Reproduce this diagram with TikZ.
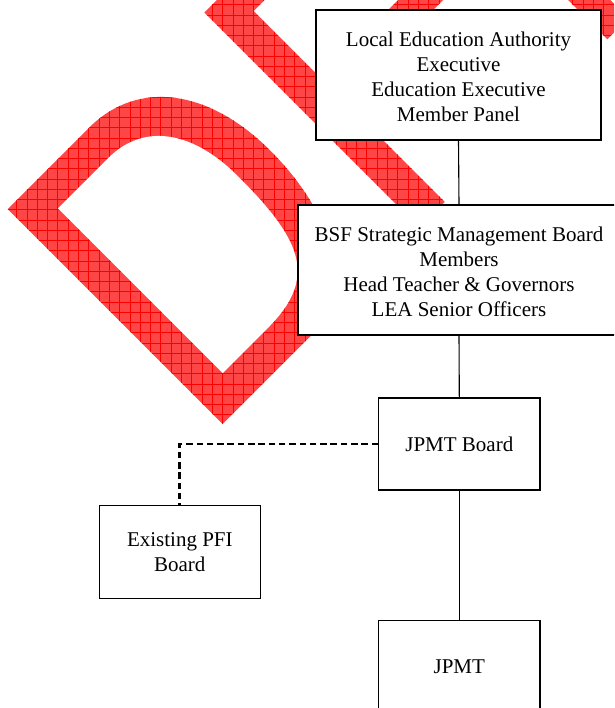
\documentclass[tikz,border=0pt]{standalone}
\usepackage{fontspec}
\setmainfont{Liberation Serif}
\definecolor{wmfill}{RGB}{255,70,70}
\definecolor{wmline}{RGB}{255,0,0}
\tikzset{
  box/.style={draw=black, line width=1.1pt, fill=white, align=center, inner sep=0pt,
    font=\fontsize{21}{25}\selectfont},
  link/.style={draw=black, line width=1.1pt},
  dlink/.style={draw=black, line width=2.8pt, dash pattern=on 6.5pt off 3.8pt},
  wm/.style={shift={(222.7pt,-424pt)}, x=1pt, y=1pt, rotate=45},
  gridline/.style={draw=wmline, line width=0.8pt}
}
\begin{document}
\begin{tikzpicture}[x=1pt,y=-1pt]
\useasboundingbox (0,0) rectangle (614,708);
\clip (0,0) rectangle (614,708);
\fill[white] (0,0) rectangle (614,708);
% watermark letters
\begin{scope}
  \clip[wm]
    (0,0) -- (0,304) -- (115,304) .. controls (185,304) and (227,245) .. (227,160)
      .. controls (227,70) and (190,0) .. (120,0) -- cycle
    (278,0) -- (278,304) -- (440,304) .. controls (520,304) and (565,268) .. (565,224)
      .. controls (565,190) and (550,168) .. (528,158)
      .. controls (562,140) and (574,110) .. (574,70) -- (574,0) -- (544,0) -- (544,70)
      .. controls (544,118) and (515,144) .. (465,144) -- (314,144) -- (314,0) -- cycle;
  \fill[wmfill] (0,0) rectangle (614,708);
  \foreach \i in {0,...,60} { \draw[gridline] ({6.3+10.3*\i},0) -- ({6.3+10.3*\i},708); }
  \foreach \i in {0,...,70} { \draw[gridline] (0,{4.75+10.25*\i}) -- (614,{4.75+10.25*\i}); }
\end{scope}
\fill[white, wm]
  (36,36) -- (36,269) -- (107,269) .. controls (160,269) and (186,225) .. (186,165)
    .. controls (186,75) and (172,36) .. (100,36) -- cycle
  (314,176) -- (314,270) -- (440,270) .. controls (500,270) and (529,252) .. (529,224)
    .. controls (529,195) and (500,176) .. (420,176) -- cycle;
% boxes
\node[box, minimum width=285pt, minimum height=130pt] (lea) at (458.5,75)
  {\rule{0pt}{18pt}Local Education Authority\\Executive\\Education Executive\\Member Panel};
\node[box, minimum width=322pt, minimum height=130pt] (bsf) at (459,270)
  {\rule{0pt}{18pt}BSF Strategic Management Board\\Members\\Head Teacher \& Governors\\LEA Senior Officers};
\node[box, minimum width=161.3pt, minimum height=92pt] (jb) at (459.3,444) {JPMT Board};
\node[box, minimum width=161pt, minimum height=93pt] (pfi) at (179.8,552.2) {Existing PFI\\Board};
\node[box, minimum width=161.3pt, minimum height=92pt] (jpmt) at (459.3,666.3) {JPMT};
% connectors
\draw[link] (lea.south) -- (bsf.north);
\draw[link] (bsf.south) -- (jb.north);
\draw[link] (jb.south) -- (jpmt.north);
\draw[dlink] (jb.west) -| (pfi.north);
\end{tikzpicture}
\end{document}
